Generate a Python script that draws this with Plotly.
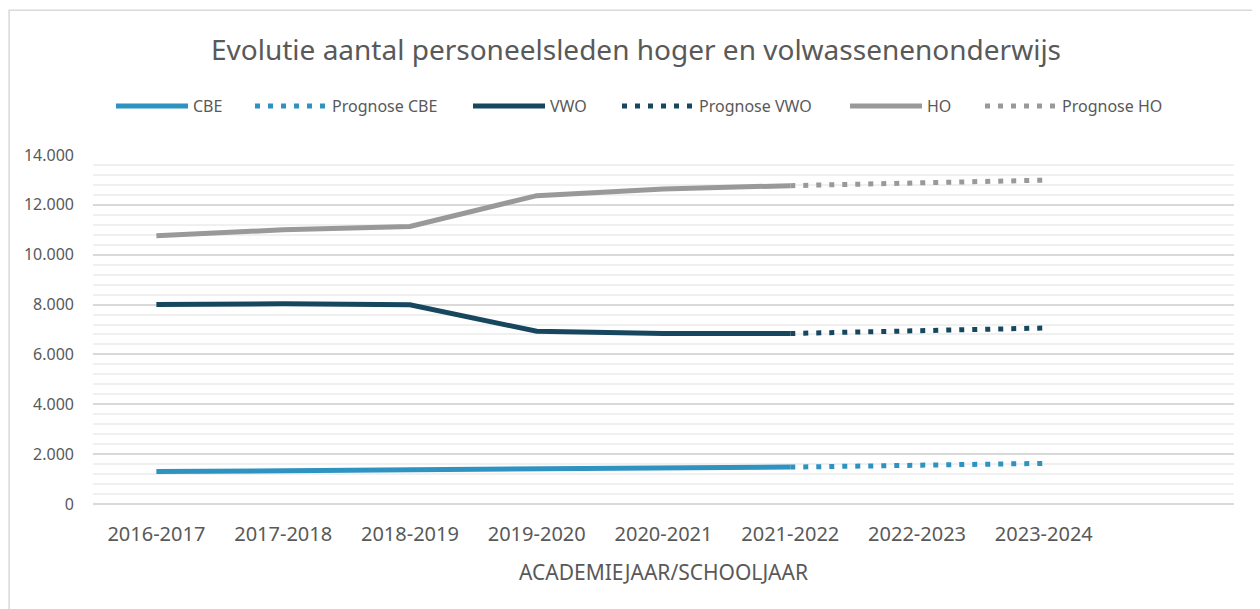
import plotly.graph_objects as go

years = ["2016-2017", "2017-2018", "2018-2019", "2019-2020", "2020-2021",
         "2021-2022", "2022-2023", "2023-2024"]
hist_years = years[:6]
prog_years = years[5:]

cbe = [1300, 1340, 1370, 1410, 1470, 1480]
cbe_prog = [1480, 1555, 1630]
vwo = [8000, 8030, 7990, 6930, 6840, 6840]
vwo_prog = [6840, 6950, 7060]
ho = [10760, 11000, 11130, 12370, 12640, 12770]
ho_prog = [12770, 12880, 12990]

c_cbe = "#2E93C0"
c_vwo = "#16475E"
c_ho = "#999999"
txt = "#595959"
FONT = "Noto Sans"

# page body has an 8px margin: work in figure-internal pixels
W, H = 1252, 601
ml, mr, mt, mb = 84.7, 26, 147, 104.5
pw, ph = W - ml - mr, H - mt - mb

legend_x = [113, 252, 470, 619, 847, 982]  # desired legend start (px)
LEG_Y = 98

series = [
    ("CBE", hist_years, cbe, c_cbe, "solid"),
    ("Prognose CBE", prog_years, cbe_prog, c_cbe, "5px,8px"),
    ("VWO", hist_years, vwo, c_vwo, "solid"),
    ("Prognose VWO", prog_years, vwo_prog, c_vwo, "5px,8px"),
    ("HO", hist_years, ho, c_ho, "solid"),
    ("Prognose HO", prog_years, ho_prog, c_ho, "5px,8px"),
]

fig = go.Figure()
legends = {}
for i, (name, xs, ys, col, dash) in enumerate(series):
    key = "legend" if i == 0 else f"legend{i + 1}"
    fig.add_trace(go.Scatter(
        x=xs, y=ys, name=name, mode="lines",
        line=dict(color=col, width=5, dash=dash),
        legend=key,
    ))
    legends[key] = dict(
        orientation="h", xref="container", yref="container",
        x=(legend_x[i] - 10) / W, xanchor="left",
        y=1 - LEG_Y / H, yanchor="middle",
        font=dict(family=FONT, size=16, color=txt),
        itemwidth=72,
        bgcolor="rgba(0,0,0,0)", borderwidth=0,
    )

fig.update_layout(
    width=W, height=H,
    margin=dict(l=ml, r=mr, t=mt, b=mb, pad=0),
    paper_bgcolor="white", plot_bgcolor="white",
    separators=",.",
    font=dict(family=FONT, color=txt),
    title=dict(
        text="Evolutie aantal personeelsleden hoger en volwassenenonderwijs",
        x=628 / W, xanchor="center", y=1 - 42 / H, yanchor="middle",
        font=dict(family=FONT, size=28, color=txt),
    ),
    xaxis=dict(
        type="category", categoryorder="array", categoryarray=years,
        range=[-0.5, 8.5], showgrid=False, zeroline=False,
        showline=False, ticks="",
        tickfont=dict(family=FONT, size=20, color=txt),
        ticklabelstandoff=16,
        title=dict(text="ACADEMIEJAAR/SCHOOLJAAR",
                   font=dict(family=FONT, size=21, color=txt), standoff=19),
        fixedrange=True,
    ),
    yaxis=dict(
        range=[0, 14000], dtick=2000, tickformat=",d",
        showgrid=True, gridcolor="#D9D9D9", gridwidth=1.5,
        zeroline=True, zerolinecolor="#D9D9D9", zerolinewidth=1.5,
        minor=dict(dtick=400, showgrid=True, gridcolor="#F0F0F0", gridwidth=1.5),
        showline=False, ticks="",
        tickfont=dict(family=FONT, size=16, color=txt),
        ticklabelstandoff=18,
        fixedrange=True,
    ),
    showlegend=True,
    **legends,
)

# outer chart border (left and top edges visible, the rest beyond the page)
fig.add_shape(
    type="rect", xref="paper", yref="paper",
    x0=(0.75 - ml) / pw, x1=(W + 30 - ml) / pw,
    y0=(-mb - 30) / ph, y1=(H - mb - 2) / ph,
    line=dict(color="#D9D9D9", width=1.5), fillcolor="rgba(0,0,0,0)",
    layer="below",
)

fig.write_html("out.html")
